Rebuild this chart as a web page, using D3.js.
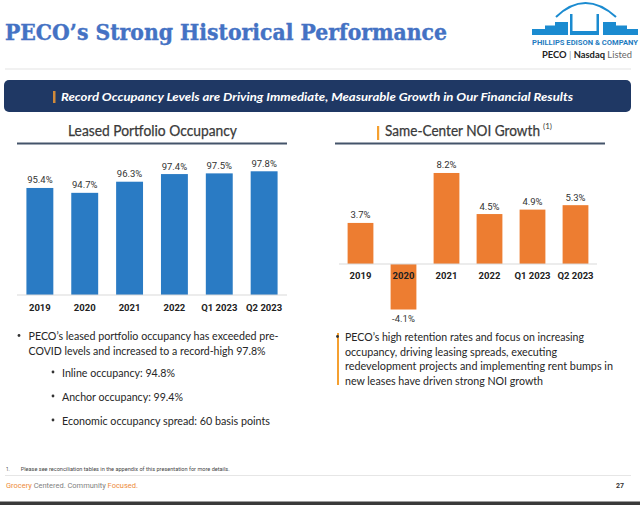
<!DOCTYPE html>
<html>
<head>
<meta charset="utf-8">
<script src="https://cdn.jsdelivr.net/npm/d3@7"></script>
<style>
  body { margin: 0; background: #fff; }
  svg { display: block; }
</style>
</head>
<body>
<script>
// chart data
var categories = ["2019", "2020", "2021", "2022", "Q1 2023", "Q2 2023"];
var occupancy = [95.4, 94.7, 96.3, 97.4, 97.5, 97.8];
var noiGrowth = [3.7, -4.1, 8.2, 4.5, 4.9, 5.3];

var leftBullets = [
  "PECO\u2019s leased portfolio occupancy has exceeded pre-",
  "COVID levels and increased to a record-high 97.8%"
];
var subBullets = [
  "Inline occupancy: 94.8%",
  "Anchor occupancy: 99.4%",
  "Economic occupancy spread: 60 basis points"
];
var rightBullets = [
  "PECO\u2019s high retention rates and focus on increasing",
  "occupancy, driving leasing spreads, executing",
  "redevelopment projects and implementing rent bumps in",
  "new leases have driven strong NOI growth"
];

var W = 640, H = 505;
var blue = "#2a7bc4", orange = "#ed7d31", text = "#262626";
var bodyFont = "Lato, 'Open Sans', sans-serif";
var numFont = "Roboto, 'Noto Sans', sans-serif";

var svg = d3.select("body").append("svg")
    .attr("width", W)
    .attr("height", H);

// ---- header ----
svg.append("text")
    .attr("x", 5).attr("y", 40)
    .attr("textLength", 442).attr("lengthAdjust", "spacingAndGlyphs")
    .style("font-family", "'DejaVu Serif', 'Liberation Serif', serif")
    .style("font-weight", "bold").style("font-size", "21.5px")
    .style("fill", "#4472c4").style("stroke", "#4472c4").style("stroke-width", 0.4)
    .text("PECO\u2019s Strong Historical Performance");

// logo
var logo = svg.append("g").style("fill", "#1b8bd0");
logo.append("path")
    .attr("d", "M532,35 L532,29 L545,29 L545,25.5 L555,25.5 L555,22 L568,22 L568,35 Z");
logo.append("path")
    .attr("d", "M603,35 L603,22 L616,22 L616,25.5 L627,25.5 L627,29 L638,29 L638,35 Z");
logo.append("path")
    .attr("d", "M570,14 L572.5,14 L572.5,31 L596.5,31 L596.5,14 L599,14 L599,35 L570,35 Z");
logo.append("path")
    .attr("d", "M556,17 Q585,-11 616,17")
    .style("fill", "none").style("stroke", "#1b8bd0").style("stroke-width", 2);
svg.append("text")
    .attr("x", 532).attr("y", 44.5)
    .attr("textLength", 106).attr("lengthAdjust", "spacingAndGlyphs")
    .style("font-family", numFont).style("font-weight", "bold").style("font-size", "7px")
    .style("fill", "#1f7cc0")
    .text("PHILLIPS EDISON & COMPANY");
var nas = svg.append("text")
    .attr("x", 542).attr("y", 57.5)
    .attr("textLength", 90).attr("lengthAdjust", "spacingAndGlyphs")
    .style("font-family", bodyFont).style("font-size", "8.5px").style("fill", "#222");
nas.append("tspan").style("font-weight", "bold").text("PECO ");
nas.append("tspan").style("fill", "#999").text(" | ");
nas.append("tspan").style("font-weight", "bold").text(" Nasdaq");
nas.append("tspan").style("fill", "#666").text(" Listed");

svg.append("line")
    .attr("x1", 5).attr("x2", 631).attr("y1", 69).attr("y2", 69)
    .style("stroke", "#e3e3e3").style("stroke-width", 1);

// banner
svg.append("rect")
    .attr("x", 4).attr("y", 80).attr("width", 627).attr("height", 32).attr("rx", 5)
    .style("fill", "#1f3864");
svg.append("rect")
    .attr("x", 53).attr("y", 91).attr("width", 2.5).attr("height", 12)
    .style("fill", "#d08a3a");
svg.append("text")
    .attr("x", 61).attr("y", 101)
    .attr("textLength", 512).attr("lengthAdjust", "spacingAndGlyphs")
    .style("font-family", bodyFont).style("font-weight", "bold").style("font-style", "italic")
    .style("font-size", "12px").style("fill", "#fff")
    .text("Record Occupancy Levels are Driving Immediate, Measurable Growth in Our Financial Results");

// ---- chart titles ----
function chartTitle(x0, x1, tx, label, len) {
  var t = svg.append("text")
      .attr("x", tx).attr("y", 136)
      .style("font-family", bodyFont).style("font-size", "14.5px")
      .style("fill", "#3a3a3a").style("stroke", "#3a3a3a").style("stroke-width", 0.25);
  t.append("tspan").attr("textLength", len).attr("lengthAdjust", "spacingAndGlyphs").text(label);
  svg.append("line")
      .attr("x1", x0).attr("x2", x1).attr("y1", 143.5).attr("y2", 143.5)
      .style("stroke", "#44546a").style("stroke-width", 2);
  return t;
}
chartTitle(17, 287, 68, "Leased Portfolio Occupancy", 169);
chartTitle(335, 605, 385, "Same-Center NOI Growth", 155);
svg.append("text")
    .attr("x", 543).attr("y", 129)
    .style("font-family", bodyFont).style("font-size", "8px").style("fill", "#3a3a3a")
    .text("(1)");
svg.append("rect")
    .attr("x", 377).attr("y", 126).attr("width", 2.2).attr("height", 14)
    .style("fill", "#f5a030");

// ---- occupancy chart ----
var x1 = d3.scaleBand().domain(categories).range([17, 287])
    .paddingInner(0.4).paddingOuter(0.21);
var y1 = d3.scaleLinear().domain([80, 100]).range([295, 156]);

var occ = svg.append("g");
occ.selectAll("rect")
    .data(occupancy)
  .enter().append("rect")
    .attr("x", function(d, i) { return x1(categories[i]); })
    .attr("width", x1.bandwidth())
    .attr("y", function(d) { return y1(d); })
    .attr("height", function(d) { return y1(80) - y1(d); })
    .style("fill", blue);
occ.append("line")
    .attr("x1", 17).attr("x2", 287).attr("y1", y1(80)).attr("y2", y1(80))
    .style("stroke", "#d9d9d9");
occ.selectAll(".val")
    .data(occupancy)
  .enter().append("text")
    .attr("class", "val")
    .attr("x", function(d, i) { return x1(categories[i]) + x1.bandwidth() / 2; })
    .attr("y", function(d) { return y1(d) - 4.5; })
    .attr("text-anchor", "middle")
    .style("font-family", numFont).style("font-size", "9.5px").style("fill", "#333")
    .text(function(d) { return d.toFixed(1) + "%"; });
occ.selectAll(".cat")
    .data(categories)
  .enter().append("text")
    .attr("class", "cat")
    .attr("x", function(d) { return x1(d) + x1.bandwidth() / 2; })
    .attr("y", 310.5)
    .attr("text-anchor", "middle")
    .style("font-family", numFont).style("font-weight", "bold").style("font-size", "9.5px")
    .style("fill", "#222")
    .text(function(d) { return d; });

// ---- NOI chart ----
var x2 = d3.scaleBand().domain(categories).range([339, 597])
    .paddingInner(0.4).paddingOuter(0.2);
var y2 = d3.scaleLinear().domain([-5, 10]).range([319.5, 153]);

var noi = svg.append("g");
noi.selectAll("rect")
    .data(noiGrowth)
  .enter().append("rect")
    .attr("x", function(d, i) { return x2(categories[i]); })
    .attr("width", x2.bandwidth())
    .attr("y", function(d) { return y2(Math.max(0, d)); })
    .attr("height", function(d) { return Math.abs(y2(d) - y2(0)); })
    .style("fill", orange);
noi.append("line")
    .attr("x1", 339).attr("x2", 597).attr("y1", y2(0)).attr("y2", y2(0))
    .style("stroke", "#d9d9d9");
noi.selectAll(".val")
    .data(noiGrowth)
  .enter().append("text")
    .attr("class", "val")
    .attr("x", function(d, i) { return x2(categories[i]) + x2.bandwidth() / 2; })
    .attr("y", function(d) { return d >= 0 ? y2(d) - 4.5 : y2(d) + 12.5; })
    .attr("text-anchor", "middle")
    .style("font-family", numFont).style("font-size", "9.5px").style("fill", "#333")
    .text(function(d) { return d.toFixed(1) + "%"; });
noi.selectAll(".cat")
    .data(categories)
  .enter().append("text")
    .attr("class", "cat")
    .attr("x", function(d) { return x2(d) + x2.bandwidth() / 2; })
    .attr("y", y2(0) + 14.5)
    .attr("text-anchor", "middle")
    .style("font-family", numFont).style("font-weight", "bold").style("font-size", "9.5px")
    .style("fill", "#222")
    .text(function(d) { return d; });

// ---- bullet text ----
function line(x, y, str, len) {
  return svg.append("text")
      .attr("x", x).attr("y", y)
      .attr("textLength", len).attr("lengthAdjust", "spacingAndGlyphs")
      .style("font-family", bodyFont).style("font-size", "12px").style("fill", text)
      .text(str);
}
function dot(x, y) {
  svg.append("circle").attr("cx", x).attr("cy", y).attr("r", 1.4).style("fill", "#333");
}

var leftLens = [250, 237];
leftBullets.forEach(function(s, i) { line(28.5, 340 + i * 15, s, leftLens[i]); });
dot(19, 335.5);
var subLens = [113, 121, 208];
subBullets.forEach(function(s, i) {
  line(62, 376.5 + i * 24, s, subLens[i]);
  dot(53, 372 + i * 24);
});

svg.append("rect")
    .attr("x", 337).attr("y", 333).attr("width", 2).attr("height", 52)
    .style("fill", "#f5a030");
dot(337.5, 336.5);
var rightLens = [239, 212, 268, 198];
rightBullets.forEach(function(s, i) { line(345, 341 + i * 14.5, s, rightLens[i]); });

// ---- footer ----
svg.append("text")
    .attr("x", 6).attr("y", 470.5)
    .style("font-family", numFont).style("font-size", "4.5px").style("fill", "#444")
    .text("1.");
svg.append("text")
    .attr("x", 20.7).attr("y", 470.5)
    .attr("textLength", 209).attr("lengthAdjust", "spacingAndGlyphs")
    .style("font-family", numFont).style("font-size", "4.5px").style("fill", "#444")
    .text("Please see reconciliation tables in the appendix of this presentation for more details.");
svg.append("line")
    .attr("x1", 5).attr("x2", 631).attr("y1", 475.5).attr("y2", 475.5)
    .style("stroke", "#e6e6e6");
var tag = svg.append("text")
    .attr("x", 6).attr("y", 488)
    .attr("textLength", 132).attr("lengthAdjust", "spacingAndGlyphs")
    .style("font-family", numFont).style("font-size", "7px").style("fill", "#7f7f7f");
tag.append("tspan").style("fill", "#ed8b3a").text("Grocery");
tag.append("tspan").text(" Centered. Community ");
tag.append("tspan").style("fill", "#ed8b3a").text("Focused.");
svg.append("text")
    .attr("x", 624).attr("y", 488).attr("text-anchor", "end")
    .style("font-family", numFont).style("font-weight", "bold").style("font-size", "7px")
    .style("fill", "#333")
    .text("27");
svg.append("rect")
    .attr("x", 0).attr("y", 501.5).attr("width", W).attr("height", 3.5)
    .style("fill", "#3a3a3a");
</script>
</body>
</html>
